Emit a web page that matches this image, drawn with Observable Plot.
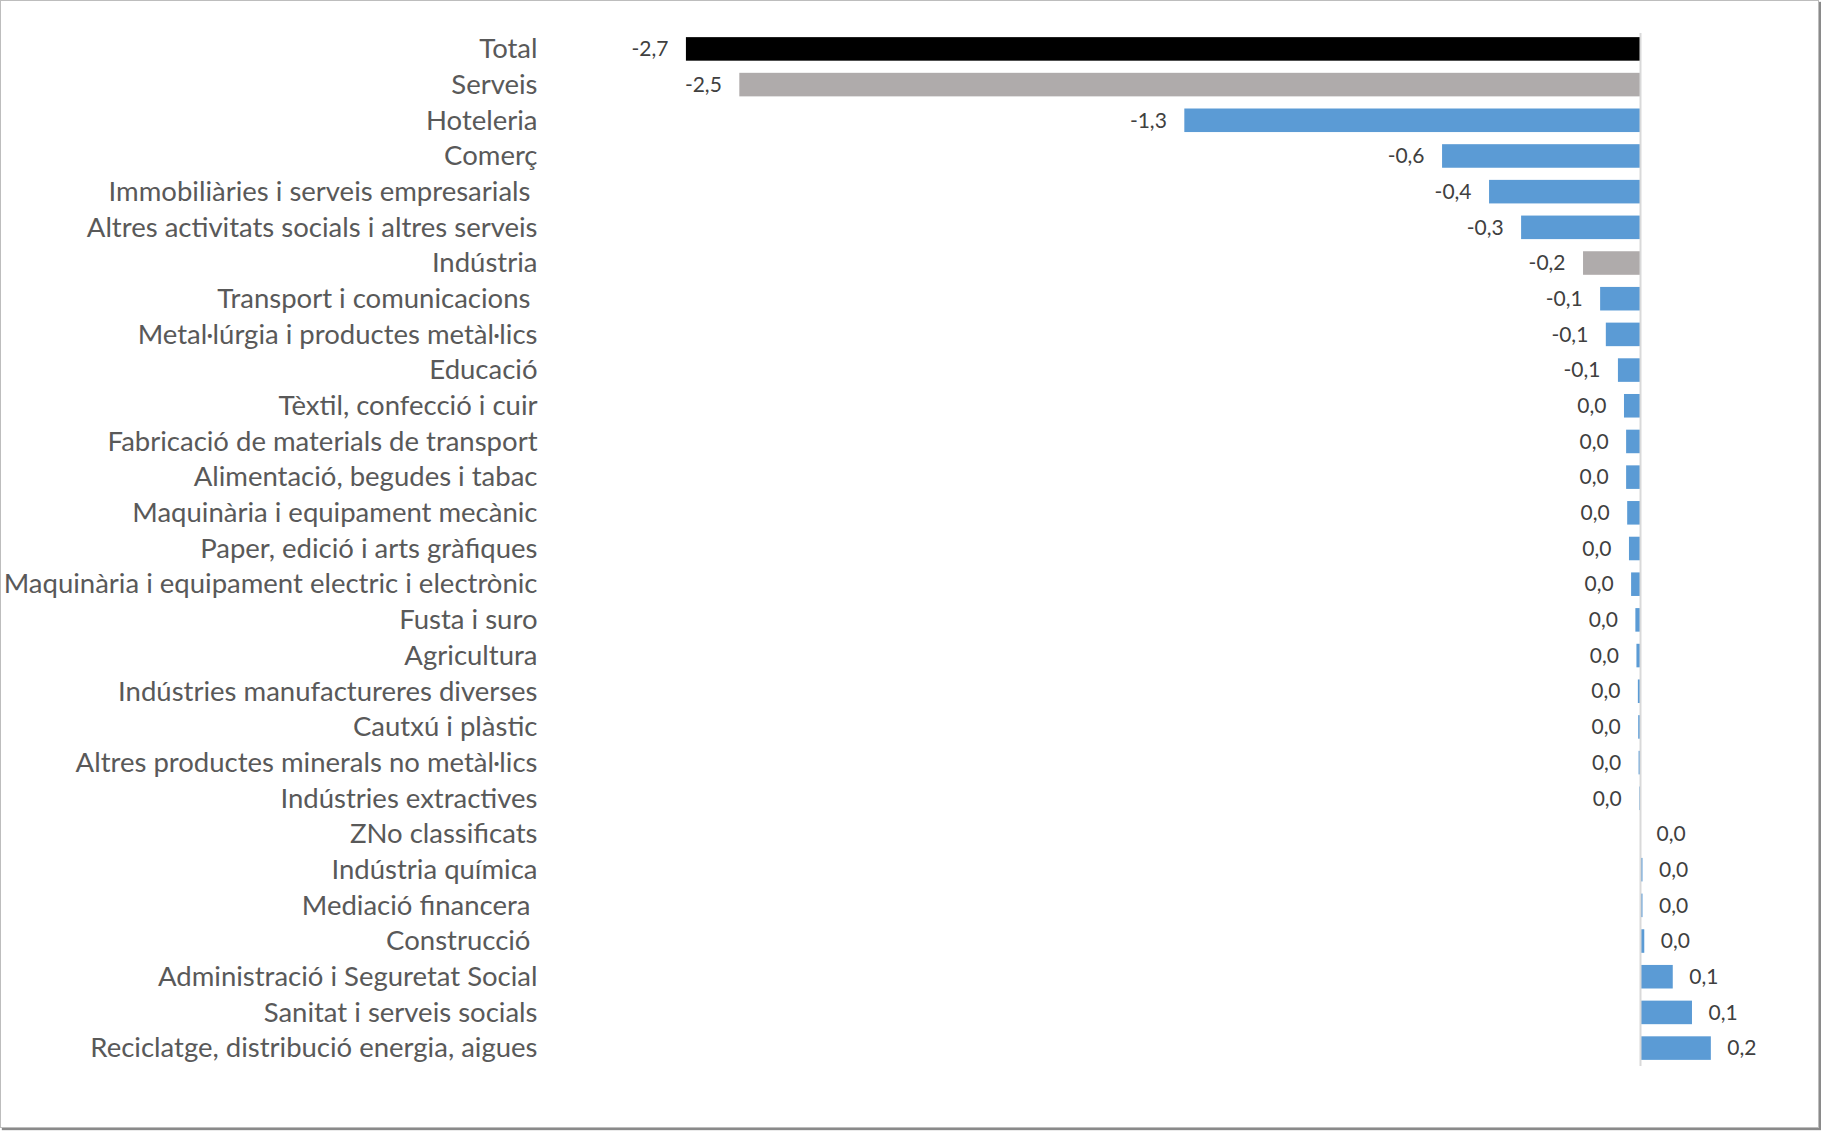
<!DOCTYPE html>
<html>
<head>
<meta charset="utf-8">
<script src="https://cdn.jsdelivr.net/npm/d3@7"></script>
<script src="https://cdn.jsdelivr.net/npm/@observablehq/plot@0.6"></script>
<style>
  html, body { margin: 0; padding: 0; background: #fff; overflow: hidden; }
  #wrap { position: relative; width: 1821px; height: 1131px; overflow: hidden; }
  #chart svg { display: block; }
  #frame { position: absolute; left: 0; top: 0; width: 1817px; height: 1126px;
           border: 1px solid #bdbdbd; box-shadow: 2px 2px 1px #8a8a8a; pointer-events: none; }
  #chart svg text { white-space: pre; }
</style>
</head>
<body>
<div id="wrap"><div id="chart"></div><div id="frame"></div></div>
<script>
const names = [
  "Total",
  "Serveis",
  "Hoteleria",
  "Comerç",
  "Immobiliàries i serveis empresarials ",
  "Altres activitats socials i altres serveis",
  "Indústria",
  "Transport i comunicacions ",
  "Metal·lúrgia i productes metàl·lics",
  "Educació",
  "Tèxtil, confecció i cuir",
  "Fabricació de materials de transport",
  "Alimentació, begudes i tabac",
  "Maquinària i equipament mecànic",
  "Paper, edició i arts gràfiques",
  "Maquinària i equipament electric i electrònic",
  "Fusta i suro",
  "Agricultura",
  "Indústries manufactureres diverses",
  "Cautxú i plàstic",
  "Altres productes minerals no metàl·lics",
  "Indústries extractives",
  "ZNo classificats",
  "Indústria química",
  "Mediació financera ",
  "Construcció ",
  "Administració i Seguretat Social",
  "Sanitat i serveis socials",
  "Reciclatge, distribució energia, aigues"
];

const values = [
  -2.68, -2.53, -1.28, -0.556, -0.424, -0.334, -0.16, -0.112, -0.096, -0.062,
  -0.045, -0.039, -0.039, -0.036, -0.031, -0.025, -0.013, -0.010, -0.006, -0.005,
  -0.004, -0.002, 0.0, 0.007, 0.007, 0.012, 0.092, 0.146, 0.199
];

const levels = [
  "Total", "Sector", "Branca", "Branca", "Branca", "Branca", "Sector", "Branca", "Branca", "Branca",
  "Branca", "Branca", "Branca", "Branca", "Branca", "Branca", "Branca", "Branca", "Branca", "Branca",
  "Branca", "Branca", "Branca", "Branca", "Branca", "Branca", "Branca", "Branca", "Branca"
];

const data = names.map((name, i) => ({ name, value: values[i], level: levels[i] }));

const fmt = v => {
  const r = Math.round(v * 10) / 10;
  if (r === 0) return "0,0";
  return r.toFixed(1).replace(".", ",");
};

const chart = Plot.plot({
  width: 1821,
  height: 1131,
  marginTop: 25,
  marginBottom: 59,
  marginLeft: 572,
  marginRight: 3,
  style: { fontFamily: "Lato, sans-serif", background: "transparent" },
  x: { domain: [-3, 0.5], axis: null },
  y: { domain: names, padding: 0.34, round: false, label: null },
  color: { domain: ["Total", "Sector", "Branca"], range: ["#000000", "#AFABAB", "#5B9BD5"] },
  marks: [
    Plot.axisY({ tickSize: 0, tickPadding: 35, fontSize: 27.5, fill: "#595959", label: null }),
    Plot.barX(data, { x: "value", y: "name", fill: "level" }),
    Plot.ruleX([0], { stroke: "#d9d9d9", strokeWidth: 2, insetTop: 8, insetBottom: 6 }),
    Plot.text(data.filter(d => d.value < 0), {
      x: "value", y: "name", text: d => fmt(d.value),
      textAnchor: "end", dx: -18, fontSize: 21, fill: "#404040"
    }),
    Plot.text(data.filter(d => d.value >= 0), {
      x: "value", y: "name", text: d => fmt(d.value),
      textAnchor: "start", dx: 16, fontSize: 21, fill: "#404040"
    })
  ]
});
document.getElementById("chart").appendChild(chart);
</script>
</body>
</html>
